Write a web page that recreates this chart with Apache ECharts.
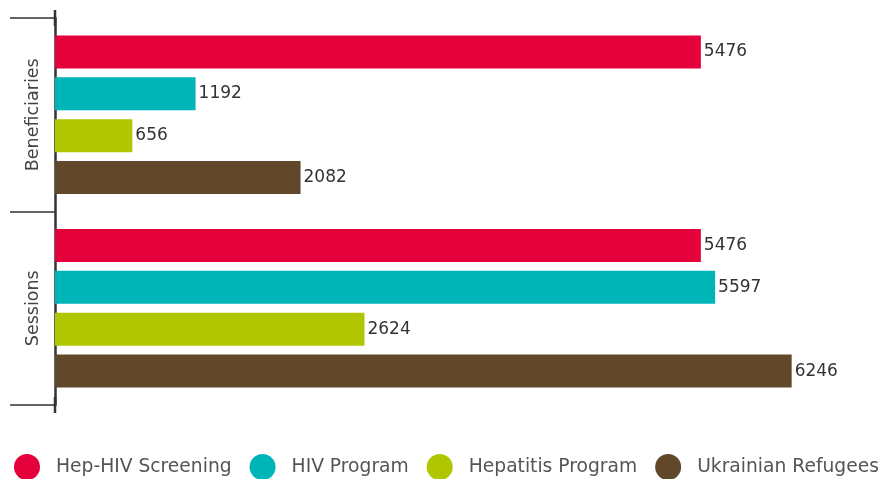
<!DOCTYPE html>
<html>
<head>
<meta charset="utf-8">
<script src="https://cdn.jsdelivr.net/npm/echarts@6/dist/echarts.min.js"></script>
<style>
  html, body { margin: 0; padding: 0; background: #fff; }
  #chart { width: 878px; height: 479px; }
</style>
</head>
<body>
<div id="chart"></div>
<script>
const categories = ["Beneficiaries", "Sessions"];
const seriesNames = ["Hep-HIV Screening", "HIV Program", "Hepatitis Program", "Ukrainian Refugees"];
const hepHivScreening = [5476, 5476];
const hivProgram = [1192, 5597];
const hepatitisProgram = [656, 2624];
const ukrainianRefugees = [2082, 6246];
const colors = ["#E4003B", "#00B5B8", "#AFC600", "#62482B"];

const values = [hepHivScreening, hivProgram, hepatitisProgram, ukrainianRefugees];

const chart = echarts.init(document.getElementById("chart"));

chart.setOption({
  animation: false,
  textStyle: { fontFamily: "DejaVu Sans" },
  grid: { left: 55, right: 21, top: 18, bottom: 74 },
  legend: {
    top: 449,
    left: 9,
    width: 900,
    padding: [5, 0, 5, 5],
    icon: "circle",
    itemWidth: 26,
    itemHeight: 26,
    itemGap: 18,
    textStyle: { fontSize: 18.7, color: "#555", padding: [0, 0, 0, 11] },
    data: seriesNames,
  },
  xAxis: {
    type: "value",
    min: 0,
    max: 6800,
    show: false,
    splitLine: { show: false },
  },
  yAxis: {
    type: "category",
    data: categories,
    inverse: true,
    axisLine: {
      show: true,
      lineStyle: { color: "#333", width: 2.5 },
      symbol: ["rect", "rect"],
      symbolSize: [2.5, 16],
    },
    axisTick: { show: true, length: 45, lineStyle: { color: "#333", width: 1.5 } },
    axisLabel: {
      rotate: 90,
      fontSize: 17.5,
      color: "#444",
      margin: 13,
    },
  },
  series: seriesNames.map((name, i) => ({
    name,
    type: "bar",
    data: values[i],
    barGap: "27%",
    barCategoryGap: "18%",
    itemStyle: { color: colors[i] },
    label: {
      show: true,
      position: "right",
      distance: 3,
      fontSize: 17,
      color: "#333",
    },
  })),
});
</script>
</body>
</html>
